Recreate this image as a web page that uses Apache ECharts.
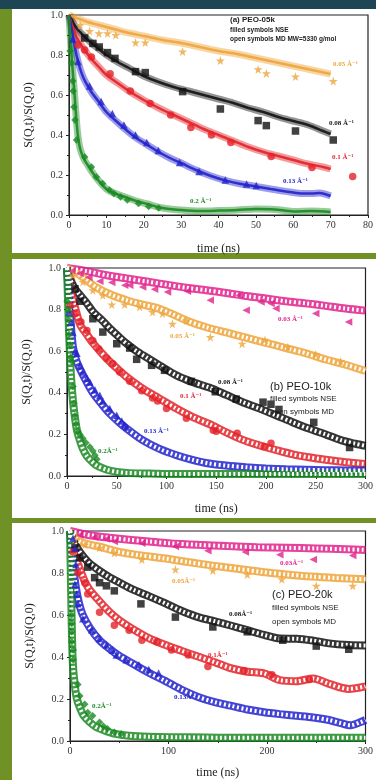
<!DOCTYPE html>
<html>
<head>
<meta charset="utf-8">
<script src="https://cdn.jsdelivr.net/npm/echarts@6/dist/echarts.min.js"></script>
<style>
  html, body { margin: 0; padding: 0; background: #6f9126; }
  #app { width: 376px; height: 780px; }
</style>
</head>
<body>
<div id="app"></div>
<script>
// Q values (Å^-1) and their colours
const qColors = { q003: "#e0208c", q005: "#eea43a", q008: "#111111", q010: "#e32228", q013: "#2323cc", q020: "#1a8a22" };

// ---- panel (a) PEO-05k, [time ns, S(Q,t)/S(Q,0)] ----
const aNse005 = [[3,0.95],[5.5,0.92],[8,0.908],[10.3,0.908],[12.5,0.9],[17.8,0.862],[20.4,0.862],[30.4,0.817],[40.5,0.772],[50.6,0.728],[52.8,0.708],[60.6,0.692],[70.7,0.67]];
const aNse008 = [[4.2,0.885],[6.4,0.858],[8.1,0.84],[10.3,0.812],[12.3,0.783],[17.8,0.717],[20.4,0.712],[30.4,0.617],[40.5,0.53],[50.6,0.472],[52.8,0.447],[60.6,0.42],[70.7,0.375]];
const aNse010 = [[2.4,0.85],[4.2,0.825],[6,0.79],[11,0.706],[16.4,0.62],[21.7,0.558],[27.2,0.5],[32.6,0.438],[38.1,0.4],[43.3,0.362],[54.1,0.292],[65,0.237],[75.9,0.192]];
const aNse013 = [[1,0.88],[2.4,0.767],[5.5,0.645],[8.6,0.567],[11.6,0.508],[14.7,0.45],[17.8,0.4],[20.8,0.363],[23.9,0.322],[29.6,0.263],[34.8,0.217],[41.8,0.175],[47.5,0.155],[50.1,0.148]];
const aNse020 = [[0.3,0.82],[0.7,0.76],[1,0.67],[1.1,0.62],[1.3,0.54],[1.6,0.475],[2,0.375],[4.2,0.29],[6,0.24],[7.3,0.19],[9,0.158],[10.8,0.125],[12,0.108],[13.8,0.09],[15.6,0.075],[18.6,0.058],[21.3,0.042],[24,0.035]];
const aMd005 = [[0,1],[2,0.985],[5,0.965],[8,0.95],[12,0.93],[16,0.91],[20,0.895],[25,0.875],[30,0.86],[35,0.84],[40,0.82],[45,0.805],[50,0.785],[55,0.765],[60,0.745],[65,0.725],[70,0.705]];
const aMd008 = [[0,1],[2,0.935],[4,0.895],[6,0.86],[8,0.83],[10,0.8],[13,0.765],[16,0.735],[20,0.695],[24,0.665],[28,0.64],[32,0.62],[36,0.6],[40,0.58],[44,0.56],[48,0.535],[52,0.515],[56,0.49],[60,0.47],[64,0.45],[68,0.42],[70,0.405]];
const aMd010 = [[0,1],[1,0.94],[2,0.89],[4,0.83],[6,0.78],[8,0.74],[10,0.7],[13,0.66],[16,0.62],[20,0.575],[24,0.535],[28,0.5],[32,0.465],[36,0.43],[40,0.4],[44,0.37],[48,0.34],[52,0.315],[56,0.295],[60,0.275],[64,0.255],[68,0.24],[70,0.23]];
const aMd013 = [[0,1],[1,0.9],[2,0.8],[3,0.73],[4,0.68],[6,0.615],[8,0.565],[10,0.515],[12,0.48],[15,0.43],[18,0.385],[21,0.35],[24,0.315],[27,0.285],[30,0.26],[34,0.225],[38,0.195],[42,0.172],[46,0.155],[50,0.143],[54,0.13],[58,0.118],[62,0.108],[65,0.108],[67,0.11],[70,0.095]];
const aMd020 = [[0,1],[0.5,0.85],[1,0.72],[1.5,0.6],[2,0.47],[2.5,0.38],[3,0.33],[4,0.28],[5,0.25],[6,0.22],[8,0.17],[10,0.13],[12,0.11],[15,0.09],[18,0.07],[21,0.055],[25,0.035],[30,0.025],[35,0.02],[40,0.022],[45,0.025],[50,0.03],[55,0.028],[60,0.018],[65,0.02],[70,0.015]];

// ---- panel (b) PEO-10k ----
const bNse003 = [[5,0.985],[13,0.973],[22,0.955],[33,0.936],[45,0.93],[58,0.917],[63,0.917],[76,0.909],[88,0.898],[101,0.885],[121,0.888],[144,0.845],[173,0.869],[180,0.797],[195,0.837],[205,0.829],[210,0.805],[250,0.781],[283,0.74]];
const bNse005 = [[6,0.965],[16,0.933],[26,0.893],[36,0.869],[45,0.824],[58,0.824],[73,0.813],[86,0.788],[96,0.781],[106,0.732],[120,0.748],[144,0.668],[176,0.636],[199,0.655],[222,0.62],[250,0.585],[275,0.55]];
const bNse008 = [[8,0.9],[13,0.84],[26,0.756],[36,0.692],[50,0.636],[63,0.615],[70,0.561],[85,0.532],[98,0.508],[125,0.455],[149,0.405],[170,0.37],[197,0.355],[205,0.345],[213,0.32],[248,0.258],[284,0.137]];
const bNse010 = [[3,0.82],[8,0.78],[14,0.74],[20,0.7],[26,0.65],[32,0.61],[40,0.565],[46,0.54],[53,0.5],[63,0.455],[75,0.41],[86,0.375],[91,0.36],[100,0.325],[120,0.278],[147,0.22],[150,0.215],[171,0.205],[198,0.142],[205,0.157]];
const bNse013 = [[2,0.79],[4,0.74],[6,0.69],[8,0.6],[10,0.59],[13,0.53],[16,0.5],[20,0.47],[23,0.452],[28,0.415],[33,0.388],[36,0.36],[43,0.325],[50,0.292],[55,0.265],[58,0.245],[60,0.235]];
const bNse020 = [[0,0.84],[1,0.8],[1.5,0.75],[2,0.68],[3,0.63],[3.5,0.57],[5,0.55],[6,0.43],[7,0.35],[8,0.29],[9,0.25],[11,0.215],[13,0.2],[16,0.18],[19,0.16],[23,0.14],[26,0.12],[28,0.1],[30,0.08]];
const bMd003 = [[0,1],[20,0.985],[40,0.965],[60,0.95],[80,0.935],[100,0.92],[120,0.905],[140,0.893],[160,0.88],[180,0.865],[200,0.853],[220,0.84],[240,0.83],[260,0.818],[280,0.805],[300,0.795]];
const bMd005 = [[0,1],[10,0.975],[20,0.94],[30,0.905],[45,0.87],[60,0.845],[75,0.825],[90,0.808],[105,0.78],[120,0.748],[140,0.715],[160,0.69],[180,0.665],[200,0.64],[220,0.615],[240,0.59],[260,0.56],[280,0.535],[300,0.505]];
const bMd008 = [[0,1],[3,0.95],[8,0.9],[13,0.87],[20,0.83],[26,0.79],[35,0.75],[43,0.71],[52,0.67],[60,0.636],[70,0.6],[80,0.57],[93,0.532],[110,0.484],[126,0.452],[143,0.425],[160,0.39],[176,0.356],[193,0.325],[210,0.292],[226,0.26],[243,0.228],[260,0.2],[276,0.171],[290,0.155],[300,0.145]];
const bMd010 = [[0,1],[3,0.9],[7,0.83],[13,0.73],[20,0.68],[26,0.64],[35,0.59],[43,0.55],[52,0.51],[60,0.476],[76,0.42],[93,0.372],[110,0.324],[126,0.284],[143,0.25],[160,0.21],[176,0.175],[193,0.148],[210,0.125],[226,0.105],[243,0.09],[260,0.078],[280,0.066],[300,0.058]];
const bMd013 = [[0,1],[2,0.86],[4,0.72],[6,0.62],[9,0.56],[13,0.515],[20,0.45],[26,0.4],[35,0.345],[43,0.3],[52,0.26],[60,0.228],[76,0.172],[93,0.13],[110,0.1],[126,0.078],[143,0.06],[160,0.05],[180,0.042],[200,0.036],[220,0.032],[240,0.03],[260,0.028],[280,0.027],[300,0.026]];
const bMd020 = [[0,1],[1,0.85],[2,0.7],[3,0.58],[4,0.48],[6,0.36],[8,0.28],[10,0.22],[13,0.17],[16,0.13],[20,0.095],[25,0.07],[30,0.05],[40,0.03],[50,0.02],[60,0.015],[80,0.012],[100,0.01],[150,0.01],[200,0.01],[250,0.01],[300,0.01]];

// ---- panel (c) PEO-20k ----
const cNse003 = [[10,0.981],[25,0.97],[37,0.962],[45,0.95],[73,0.942],[107,0.926],[140,0.906],[178,0.9],[213,0.887],[247,0.864],[287,0.883]];
const cNse005 = [[5,0.96],[15,0.934],[30,0.92],[45,0.895],[73,0.864],[107,0.817],[145,0.812],[180,0.793],[215,0.77],[250,0.739],[287,0.739]];
const cNse008 = [[5,0.92],[10,0.872],[18,0.828],[25,0.778],[30,0.754],[37,0.739],[45,0.715],[72,0.653],[107,0.59],[145,0.543],[180,0.52],[216,0.48],[250,0.452],[283,0.437]];
const cNse010 = [[3,0.9],[8,0.801],[15,0.754],[18,0.7],[30,0.613],[45,0.551],[60,0.527],[73,0.48],[88,0.473],[103,0.433],[120,0.41],[140,0.355],[177,0.335],[205,0.316],[243,0.293]];
const cNse013 = [[3,0.966],[5,0.919],[6,0.84],[5,0.746],[7,0.7],[8,0.653],[13,0.582],[22,0.53],[30,0.488],[37,0.457],[43,0.433],[47,0.41],[57,0.387],[70,0.363],[80,0.34],[90,0.324]];
const cNse020 = [[1.5,0.6],[1.7,0.559],[1.7,0.52],[1.7,0.473],[3.3,0.433],[3.3,0.387],[8,0.269],[10,0.214],[15,0.175],[18,0.136],[23,0.12],[30,0.089],[34,0.07],[38,0.058],[45,0.042],[52,0.034]];
const cMd003 = [[0,1],[10,0.99],[20,0.98],[40,0.968],[60,0.958],[80,0.95],[100,0.942],[130,0.934],[160,0.928],[190,0.923],[220,0.92],[250,0.917],[280,0.913],[300,0.91]];
const cMd005 = [[0,1],[5,0.97],[10,0.95],[20,0.935],[30,0.925],[50,0.9],[70,0.885],[95,0.87],[120,0.852],[145,0.835],[170,0.82],[195,0.805],[220,0.793],[245,0.783],[270,0.776],[300,0.77]];
const cMd008 = [[0,1],[3,0.96],[6,0.93],[10,0.9],[15,0.87],[20,0.845],[30,0.81],[40,0.78],[50,0.755],[63,0.723],[80,0.69],[97,0.655],[113,0.62],[130,0.59],[147,0.57],[163,0.55],[180,0.528],[197,0.505],[213,0.488],[230,0.487],[247,0.478],[263,0.465],[283,0.457],[300,0.455]];
const cMd010 = [[0,1],[3,0.93],[6,0.87],[10,0.82],[15,0.76],[20,0.72],[30,0.665],[40,0.615],[50,0.575],[63,0.535],[80,0.49],[97,0.457],[113,0.43],[130,0.402],[147,0.375],[163,0.347],[180,0.33],[197,0.322],[213,0.29],[230,0.285],[247,0.298],[263,0.272],[283,0.248],[300,0.26]];
const cMd013 = [[0,1],[2,0.9],[4,0.8],[6,0.73],[9,0.66],[13,0.6],[20,0.54],[30,0.48],[40,0.44],[50,0.405],[63,0.37],[80,0.325],[97,0.285],[113,0.245],[130,0.21],[147,0.185],[163,0.168],[180,0.15],[197,0.137],[213,0.128],[230,0.12],[247,0.112],[263,0.1],[275,0.085],[285,0.075],[295,0.09],[300,0.1]];
const cMd020 = [[0,1],[1,0.75],[2,0.5],[3,0.36],[5,0.26],[7,0.2],[10,0.16],[14,0.12],[20,0.09],[27,0.065],[35,0.05],[45,0.035],[60,0.025],[80,0.02],[110,0.018],[150,0.016],[200,0.016],[250,0.016],[300,0.015]];

const panelXMax = [80, 300, 300];
const panelXStep = [10, 50, 100];
const yTicks = [0, 0.2, 0.4, 0.6, 0.8, 1.0];

const STAR = "path://M50,0 L61,35 L98,35 L68,57 L79,91 L50,70 L21,91 L32,57 L2,35 L39,35 Z";
const SERIF = "'Liberation Serif', 'DejaVu Serif', serif";
const SANS = "'Liberation Sans', Arial, sans-serif";

function nse(data, q, symbol, g, rotate) {
  return {
    type: "scatter", data, xAxisIndex: g, yAxisIndex: g, z: 4,
    symbol, symbolSize: symbol === STAR ? 9 : 7.5, symbolRotate: rotate || 0,
    itemStyle: { color: qColors[q] }
  };
}

// panel a: MD drawn as a soft thick band with a darker core
function mdBand(data, q, g) {
  return [
    { type: "line", data, xAxisIndex: g, yAxisIndex: g, z: 2, smooth: 0.3, showSymbol: false,
      lineStyle: { color: qColors[q], width: 7, opacity: 0.45 } },
    { type: "line", data, xAxisIndex: g, yAxisIndex: g, z: 3, smooth: 0.3, showSymbol: false,
      lineStyle: { color: qColors[q], width: 2.5, opacity: 0.9 } }
  ];
}

// panels b, c: MD as a chain of open symbols (band with a dashed white core)
function mdChain(data, q, g) {
  return [
    { type: "line", data, xAxisIndex: g, yAxisIndex: g, z: 2, smooth: 0.3, showSymbol: false,
      lineStyle: { color: qColors[q], width: 8, opacity: 0.85 } },
    { type: "line", data, xAxisIndex: g, yAxisIndex: g, z: 3, smooth: 0.3, showSymbol: false,
      lineStyle: { color: "#ffffff", width: 4, type: [2, 2.5] } }
  ];
}

const grids = [
  { left: 69, top: 15, width: 305, height: 200 },
  { left: 67, top: 268, width: 299, height: 208 },
  { left: 70, top: 531, width: 302, height: 213 }
].map(g => Object.assign(g, { show: true, borderColor: "#222", borderWidth: 1.2, backgroundColor: "transparent" }));

const xNameGap = [28, 27, 26];

const xAxes = [0, 1, 2].map(i => ({
  type: "value", gridIndex: i, min: 0, max: panelXMax[i], interval: panelXStep[i],
  name: "time (ns)", nameLocation: "middle", nameGap: xNameGap[i],
  nameTextStyle: { fontFamily: SERIF, fontSize: 12, color: "#222" },
  axisLine: { show: true, lineStyle: { color: "#222" } },
  axisTick: { show: true, length: 3, lineStyle: { color: "#222" } },
  minorTick: { show: true, splitNumber: 2, length: 2, lineStyle: { color: "#222" } },
  splitLine: { show: false },
  axisLabel: { fontFamily: SERIF, fontSize: 10, color: "#333", margin: 5 }
}));

const yAxes = [0, 1, 2].map(i => ({
  type: "value", gridIndex: i, min: yTicks[0], max: yTicks[yTicks.length - 1], interval: 0.2,
  name: "S(Q,t)/S(Q,0)", nameLocation: "middle", nameGap: 34, nameRotate: 90,
  nameTextStyle: { fontFamily: SERIF, fontSize: 12, color: "#222" },
  axisLine: { show: true, lineStyle: { color: "#222" } },
  axisTick: { show: true, length: 3, lineStyle: { color: "#222" } },
  minorTick: { show: true, splitNumber: 2, length: 2, lineStyle: { color: "#222" } },
  splitLine: { show: false },
  axisLabel: { fontFamily: SERIF, fontSize: 10, color: "#333", margin: 6, formatter: v => v.toFixed(1) }
}));

const series = [
  ...mdBand(aMd005, "q005", 0), ...mdBand(aMd008, "q008", 0), ...mdBand(aMd010, "q010", 0),
  ...mdBand(aMd013, "q013", 0), ...mdBand(aMd020, "q020", 0),
  nse(aNse005, "q005", STAR, 0), nse(aNse008, "q008", "rect", 0), nse(aNse010, "q010", "circle", 0),
  nse(aNse013, "q013", "triangle", 0), nse(aNse020, "q020", "diamond", 0),

  ...mdChain(bMd003, "q003", 1), ...mdChain(bMd005, "q005", 1), ...mdChain(bMd008, "q008", 1),
  ...mdChain(bMd010, "q010", 1), ...mdChain(bMd013, "q013", 1), ...mdChain(bMd020, "q020", 1),
  nse(bNse003, "q003", "triangle", 1, 90), nse(bNse005, "q005", STAR, 1), nse(bNse008, "q008", "rect", 1),
  nse(bNse010, "q010", "circle", 1), nse(bNse013, "q013", "triangle", 1), nse(bNse020, "q020", "diamond", 1),

  ...mdChain(cMd003, "q003", 2), ...mdChain(cMd005, "q005", 2), ...mdChain(cMd008, "q008", 2),
  ...mdChain(cMd010, "q010", 2), ...mdChain(cMd013, "q013", 2), ...mdChain(cMd020, "q020", 2),
  nse(cNse003, "q003", "triangle", 2, 90), nse(cNse005, "q005", STAR, 2), nse(cNse008, "q008", "rect", 2),
  nse(cNse010, "q010", "circle", 2), nse(cNse013, "q013", "triangle", 2), nse(cNse020, "q020", "diamond", 2)
];

function label(x, y, text, q) {
  return { type: "text", left: x, top: y, z: 10,
    style: { text, fill: qColors[q], font: "bold 7px " + SERIF } };
}
function note(x, y, text, size, bold) {
  return { type: "text", left: x, top: y, z: 10,
    style: { text, fill: "#222", font: (bold ? "bold " : "") + size + "px " + SANS } };
}

const graphic = [
  { type: "rect", z: -10, shape: { x: 0, y: 0, width: 376, height: 9 }, style: { fill: "#1e4553" } },
  { type: "rect", z: -10, shape: { x: 12, y: 9, width: 364, height: 244 }, style: { fill: "#ffffff" } },
  { type: "rect", z: -10, shape: { x: 12, y: 259, width: 364, height: 259 }, style: { fill: "#ffffff" } },
  { type: "rect", z: -10, shape: { x: 12, y: 523, width: 364, height: 257 }, style: { fill: "#ffffff" } },

  note(230, 16, "(a) PEO-05k", 8, true),
  note(230, 27, "filled symbols NSE", 6.5, true),
  note(230, 36, "open symbols MD MW=5330 g/mol", 6.5, true),
  label(333, 61, "0.05 Å⁻¹", "q005"),
  label(329, 120, "0.08 Å⁻¹", "q008"),
  label(332, 154, "0.1 Å⁻¹", "q010"),
  label(283, 178, "0.13 Å⁻¹", "q013"),
  label(190, 198, "0.2 Å⁻¹", "q020"),

  note(270, 381, "(b) PEO-10k", 11, false),
  note(270, 395, "filled symbols NSE", 8, false),
  note(270, 408, "open symbols MD", 8, false),
  label(278, 316, "0.03 Å⁻¹", "q003"),
  label(170, 333, "0.05 Å⁻¹", "q005"),
  label(218, 379, "0.08 Å⁻¹", "q008"),
  label(180, 393, "0.1 Å⁻¹", "q010"),
  label(144, 428, "0.13 Å⁻¹", "q013"),
  label(98, 448, "0.2Å⁻¹", "q020"),

  note(272, 589, "(c) PEO-20k", 11, false),
  note(272, 604, "filled symbols NSE", 8, false),
  note(272, 618, "open symbols MD", 8, false),
  label(280, 560, "0.03Å⁻¹", "q003"),
  label(172, 578, "0.05Å⁻¹", "q005"),
  label(229, 611, "0.08Å⁻¹", "q008"),
  label(208, 652, "0.1Å⁻¹", "q010"),
  label(174, 694, "0.13Å⁻¹", "q013"),
  label(92, 703, "0.2Å⁻¹", "q020")
];

const chart = echarts.init(document.getElementById("app"));
chart.setOption({
  backgroundColor: "#6f9126",
  animation: false,
  grid: grids,
  xAxis: xAxes,
  yAxis: yAxes,
  graphic,
  series
});
</script>
</body>
</html>
